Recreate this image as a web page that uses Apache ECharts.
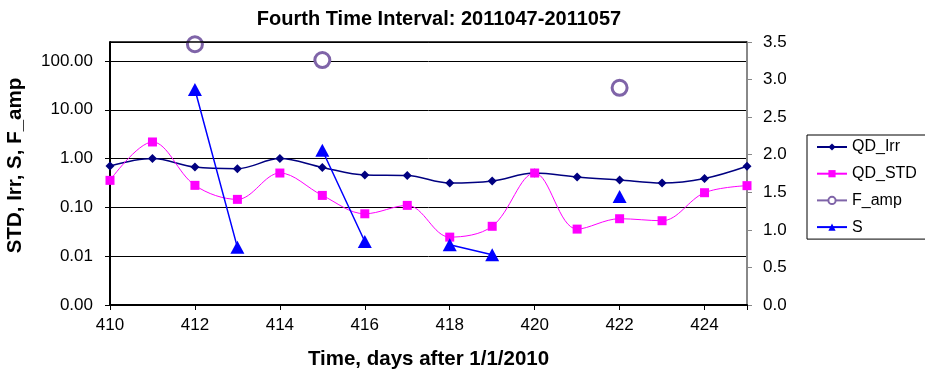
<!DOCTYPE html>
<html>
<head>
<meta charset="utf-8">
<script src="https://cdn.jsdelivr.net/npm/echarts@6/dist/echarts.min.js"></script>
<style>
html,body{margin:0;padding:0;background:#fff;}
#chart{width:925px;height:372px;}
</style>
</head>
<body>
<div id="chart"></div>
<script>
var days = [410,411,412,413,414,415,416,417,418,419,420,421,422,423,424,425];
var qdIrr = [0.705,1.0,0.67,0.62,1.0,0.66,0.46,0.45,0.315,0.347,0.506,0.42,0.364,0.315,0.39,0.695];
var qdStd = [0.358,2.19,0.283,0.146,0.506,0.176,0.074,0.11,0.0246,0.041,0.506,0.0359,0.0586,0.0533,0.2,0.279];
var fAmp = [null,null,3.47,null,null,3.26,null,null,null,null,null,null,2.89,null,null,null];
var sVals = [null,null,26.1,0.0152,null,1.48,0.020,null,0.0171,0.0107,null,null,0.168,null,null,null];
var leftTicks = [0.001,0.01,0.1,1,10,100];
var rightTicks = [0,0.5,1,1.5,2,2.5,3,3.5];
var xTicks = [410,412,414,416,418,420,422,424];

function pairs(vals){ return days.map(function(d,i){ return [d, vals[i]]; }); }

var font = 'Liberation Sans, Arial, sans-serif';
var chart = echarts.init(document.getElementById('chart'), null, {renderer:'canvas'});
chart.setOption({
  animation:false,
  backgroundColor:'#fff',
  title:{
    text:'Fourth Time Interval: 2011047-2011057',
    left:434, top:4, textAlign:'center',
    textStyle:{fontFamily:font,fontSize:20,fontWeight:'bold',color:'#000'}
  },
  legend:{
    orient:'vertical', left:807, top:135,
    padding:[4,9,4,9],
    borderColor:'#000', borderWidth:1,
    itemWidth:30, itemHeight:9, itemGap:10.7,
    textStyle:{fontFamily:font,fontSize:16,color:'#000'},
    data:['QD_Irr','QD_STD','F_amp','S']
  },
  grid:{left:110, right:178, top:42, bottom:67, containLabel:false, outerBoundsMode:'none'},
  xAxis:{
    type:'value', min:410, max:425, interval:2,
    name:'Time, days after 1/1/2010', nameLocation:'middle', nameGap:44,
    nameTextStyle:{fontFamily:font,fontSize:20.5,fontWeight:'bold',color:'#000'},
    axisLine:{lineStyle:{color:'#000',width:2}},
    axisTick:{show:true,length:5,lineStyle:{color:'#000'}},
    axisLabel:{fontFamily:font,fontSize:17,color:'#000',margin:12,
      formatter:function(v){ return xTicks.indexOf(v)>=0 ? String(v) : ''; }},
    splitLine:{show:false}
  },
  yAxis:[{
    type:'log', logBase:10, min:0.001, max:245,
    name:'STD, Irr, S, F_amp', nameLocation:'middle', nameGap:84,
    nameTextStyle:{fontFamily:font,fontSize:20.5,fontWeight:'bold',color:'#000',padding:[0,0,0,16]},
    axisLine:{show:true,lineStyle:{color:'#000',width:2}},
    axisTick:{show:true,length:5,lineStyle:{color:'#000'}},
    axisLabel:{fontFamily:font,fontSize:17,color:'#000',margin:17,showMaxLabel:false,
      formatter:function(v){
        for (var i=0;i<leftTicks.length;i++){ if (Math.abs(v-leftTicks[i])/leftTicks[i] < 1e-6) return leftTicks[i].toFixed(2); }
        return '';
      }},
    splitLine:{show:true,lineStyle:{color:'#000',width:1}}
  },{
    type:'value', min:0, max:3.5, interval:0.5, position:'right',
    axisLine:{show:true,lineStyle:{color:'#888',width:2}},
    axisTick:{show:true,length:5,lineStyle:{color:'#888'}},
    axisLabel:{fontFamily:font,fontSize:17,color:'#000',margin:16,
      formatter:function(v){ return v.toFixed(1); }},
    splitLine:{show:false}
  }],
  graphic:[{
    type:'line', shape:{x1:110,y1:42,x2:747,y2:42},
    style:{stroke:'#000',lineWidth:1.5}, z:10
  }],
  series:[{
    name:'QD_Irr', type:'line', yAxisIndex:0, data:pairs(qdIrr),
    smooth:0.35, symbol:'diamond', symbolSize:9,
    lineStyle:{color:'#000080',width:1.5}, itemStyle:{color:'#000080'}, z:3
  },{
    name:'QD_STD', type:'line', yAxisIndex:0, data:pairs(qdStd),
    smooth:0.35, symbol:'rect', symbolSize:9,
    lineStyle:{color:'#FF00FF',width:1}, itemStyle:{color:'#FF00FF'}, z:4
  },{
    name:'F_amp', type:'line', yAxisIndex:1, data:pairs(fAmp),
    connectNulls:false, symbol:'circle', symbolSize:15, showAllSymbol:true,
    lineStyle:{color:'#7F64A8',width:3},
    itemStyle:{color:'#fff',borderColor:'#7F64A8',borderWidth:3}, z:5
  },{
    name:'S', type:'line', yAxisIndex:0, data:pairs(sVals),
    connectNulls:false, symbol:'triangle', symbolSize:[14,13], showAllSymbol:true,
    lineStyle:{color:'#0000FF',width:1.5}, itemStyle:{color:'#0000FF'}, z:6
  }]
});
</script>
</body>
</html>
